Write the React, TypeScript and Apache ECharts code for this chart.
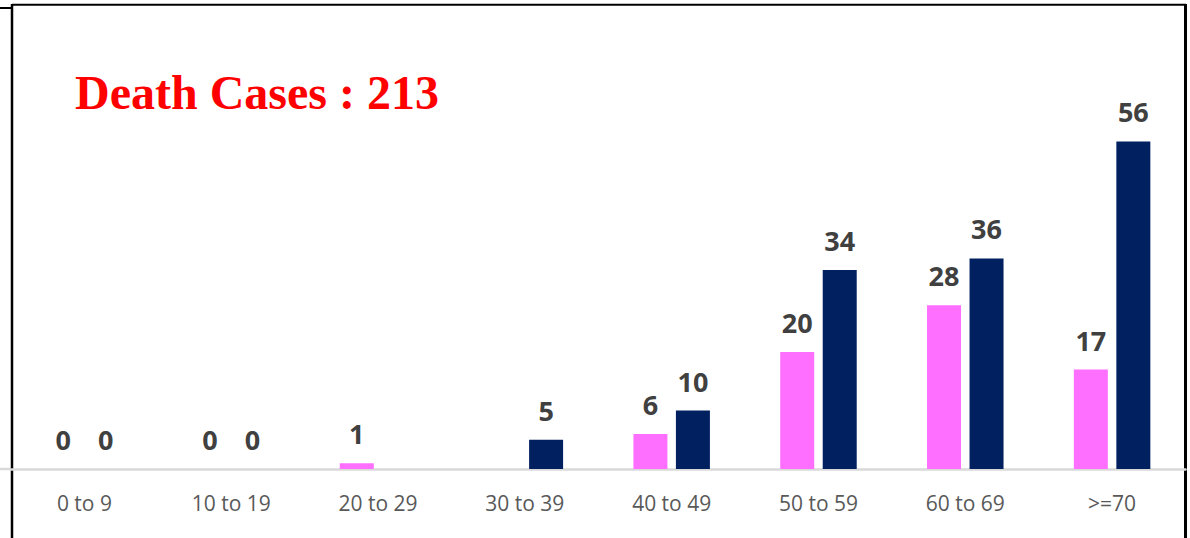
import React, { useEffect, useRef } from "react";
import * as echarts from "echarts";

const categories = ["0 to 9", "10 to 19", "20 to 29", "30 to 39", "40 to 49", "50 to 59", "60 to 69", ">=70"];
const pinkValues: (number | null)[] = [0, 0, 1, null, 6, 20, 28, 17];
const navyValues: (number | null)[] = [0, 0, null, 5, 10, 34, 36, 56];
const titleText = "Death Cases : 213";

const labelStyle = {
  show: true,
  position: "top" as const,
  distance: 16,
  fontFamily: "Open Sans",
  fontWeight: "bold" as const,
  fontSize: 27,
  color: "#404040",
};

export default function App() {
  const ref = useRef<HTMLDivElement>(null);
  useEffect(() => {
    if (!ref.current) return;
    const chart = echarts.init(ref.current, undefined, { renderer: "svg" });
    chart.setOption({
      animation: false,
      backgroundColor: "#ffffff",
      grid: { left: 11, right: 4.5, top: 118, bottom: 69, containLabel: false },
      xAxis: {
        type: "category",
        data: categories,
        axisLine: { show: true, lineStyle: { color: "#d9d9d9", width: 2.5 } },
        axisTick: { show: false },
        axisLabel: { margin: 23, fontFamily: "Open Sans", fontSize: 21, color: "#595959" },
      },
      yAxis: {
        type: "value",
        min: 0,
        max: 60,
        show: false,
        splitLine: { show: false },
      },
      series: [
        {
          type: "bar",
          name: "Female",
          data: pinkValues,
          barWidth: 34,
          barGap: "25%",
          itemStyle: { color: "#ff6fff" },
          label: labelStyle,
        },
        {
          type: "bar",
          name: "Male",
          data: navyValues,
          barWidth: 34,
          barGap: "25%",
          itemStyle: { color: "#002060" },
          label: labelStyle,
        },
      ],
      graphic: [
        { type: "line", shape: { x1: 0, y1: 469, x2: 12, y2: 469 }, style: { stroke: "#d9d9d9", lineWidth: 2.5 } },
        { type: "line", shape: { x1: 0, y1: 8, x2: 12, y2: 8 }, style: { stroke: "#000", lineWidth: 2 } },
        { type: "line", shape: { x1: 12, y1: 4, x2: 12, y2: 538 }, style: { stroke: "#000", lineWidth: 2.5 } },
        { type: "line", shape: { x1: 12, y1: 4.7, x2: 1186, y2: 4.7 }, style: { stroke: "#000", lineWidth: 2 } },
        { type: "line", shape: { x1: 1185.5, y1: 4, x2: 1185.5, y2: 538 }, style: { stroke: "#000", lineWidth: 3 } },
        {
          type: "text",
          x: 75,
          y: 92,
          style: {
            text: titleText,
            fill: "#ff0000",
            fontFamily: "Liberation Serif",
            fontWeight: "bold",
            fontSize: 48,
            verticalAlign: "middle",
            align: "left",
          },
        },
      ],
    });
    return () => chart.dispose();
  }, []);
  return (
    <div
      ref={ref}
      style={{ position: "fixed", left: 0, top: 0, width: 1190, height: 538 }}
    />
  );
}
